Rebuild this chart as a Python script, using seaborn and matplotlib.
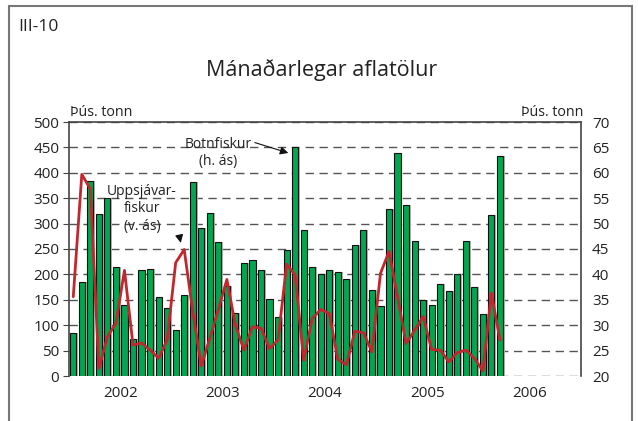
import numpy as np
import pandas as pd
import matplotlib
matplotlib.use('Agg')
import matplotlib.pyplot as plt
import seaborn as sns
from matplotlib.patches import Rectangle

# Ár á x-ás
years = ['2002', '2003', '2004', '2005', '2006']

# Botnfiskur, þús. tonn (hægri ás), jan 2002 - mar 2006
botnfiskur = [28.5, 38.6, 58.4, 51.8, 55.1, 41.4, 34.0, 27.3, 40.8, 41.1, 35.6, 33.4,
              29.0, 35.9, 58.2, 49.2, 52.0, 46.3, 37.8, 32.5, 42.2, 42.8, 40.9, 35.1,
              31.7, 44.8, 65.0, 48.7, 41.4, 40.1, 40.8, 40.4, 39.1, 45.7, 48.7, 36.9,
              33.7, 52.9, 63.9, 53.7, 46.6, 34.9, 34.0, 38.1, 36.7, 40.0, 46.6, 37.5,
              32.3, 51.7, 63.4]

# Uppsjávarfiskur, þús. tonn (vinstri ás)
uppsjavar = [156, 397, 368, 15, 77, 104, 208, 61, 65, 51, 35, 71,
             223, 249, 127, 20, 74, 131, 190, 100, 51, 97, 94, 54,
             71, 220, 199, 31, 113, 131, 123, 33, 22, 88, 85, 48,
             202, 245, 156, 64, 90, 117, 52, 51, 28, 46, 51, 35,
             10, 163, 71]

months = np.arange(len(botnfiskur))
df = pd.DataFrame({'man': months, 'botn': botnfiskur, 'uppsj': uppsjavar})

sns.set_style('white')
plt.rcParams['font.family'] = ['Open Sans', 'DejaVu Sans']

fig = plt.figure(figsize=(6.38, 4.21), dpi=100)
W, H = 638, 421
ax = fig.add_axes([69 / W, 45 / H, 512 / W, 254 / H])

# skuggi og súlur (botnfiskur, hægri ás)
sns.barplot(x=df['man'] + 0.2, y=df['botn'], native_scale=True, ax=ax,
            color='#b3b3b3', width=0.72, saturation=1, errorbar=None, linewidth=0)
sns.barplot(data=df, x='man', y='botn', native_scale=True, ax=ax,
            color='#00a651', width=0.72, saturation=1, errorbar=None,
            edgecolor='#111111', linewidth=0.8)

# lína (uppsjávarfiskur, vinstri ás)
ax2 = ax.twinx()
sns.lineplot(data=df, x='man', y='uppsj', ax=ax2, color='#c1272d', linewidth=2)

ax.set_ylim(20, 70)
ax.set_xlim(-0.5, 59.5)
ax.yaxis.tick_right()
ax.yaxis.set_label_position('right')
ax.set_yticks(range(20, 71, 5))
ax.tick_params(axis='y', length=0, pad=8, labelsize=11, colors='#222222')
ax.yaxis.grid(True, color='#555555', linestyle=(0, (6, 4)), linewidth=1)
ax.set_axisbelow(True)

ax.set_xticks([12 * k - 0.5 for k in range(6)])
ax.set_xticklabels([])
ax.set_xticks([12 * k + 5.5 for k in range(5)], minor=True)
ax.set_xticklabels(years, minor=True)
ax.tick_params(axis='x', which='major', direction='out', length=6, width=1, color='#444444')
ax.tick_params(axis='x', which='minor', length=0, pad=7, labelsize=11, labelcolor='#222222')
ax.set_xlabel('')
ax.set_ylabel('')
for s in ['left', 'top', 'right']:
    ax.spines[s].set_color('#444444')
    ax.spines[s].set_linewidth(1.2)
ax.spines['bottom'].set_visible(False)

ax2.set_ylim(0, 500)
ax2.set_xlim(-0.5, 59.5)
ax2.yaxis.tick_left()
ax2.yaxis.set_label_position('left')
ax2.set_yticks(range(0, 501, 50))
ax2.tick_params(axis='y', direction='out', length=4, color='#444444', labelsize=11,
                labelcolor='#222222', pad=3)
ax2.set_ylabel('')
ax2.set_xlabel('')
for s in ax2.spines.values():
    s.set_visible(False)

# skýringar
ax.annotate('Botnfiskur\n(h. ás)', xy=(25.2, botnfiskur[26] - 1.1), xytext=(218 / W, 1 - 153 / H),
            textcoords='figure fraction', ha='center', va='center', fontsize=10,
            linespacing=1.25, color='#222222',
            arrowprops=dict(arrowstyle='-|>', color='#111111', lw=0.8, mutation_scale=12,
                            shrinkA=0, shrinkB=0, relpos=(1.0, 0.85)))
ax2.annotate('Uppsjávar-\nfiskur\n(v. ás)', xy=(12.6, uppsjavar[13] + 13), xytext=(142 / W, 1 - 209 / H),
             textcoords='figure fraction', ha='center', va='center', fontsize=10,
             linespacing=1.25, color='#222222',
             arrowprops=dict(arrowstyle='-|>', color='#111111', lw=0.8, mutation_scale=12,
                             shrinkA=0, shrinkB=0, relpos=(1.0, 0.2)))

# textar
fig.text(322 / W, 1 - 70 / H, 'Mánaðarlegar aflatölur', ha='center', va='center',
         fontsize=15.5, color='#222222')
fig.text(18 / W, 1 - 27 / H, 'III-10', ha='left', va='center', fontsize=12.5, color='#222222')
fig.text(70 / W, 1 - 112 / H, 'Þús. tonn', ha='left', va='center', fontsize=10.3, color='#222222')
fig.text(583 / W, 1 - 112 / H, 'Þús. tonn', ha='right', va='center', fontsize=10.3, color='#222222')

# rammi
fig.patches.append(Rectangle((9 / W, -0.1), 623 / W, 1.1 - 6 / H, transform=fig.transFigure,
                             fill=False, edgecolor='#777777', linewidth=1.5))

fig.savefig('out.png', dpi=100)
